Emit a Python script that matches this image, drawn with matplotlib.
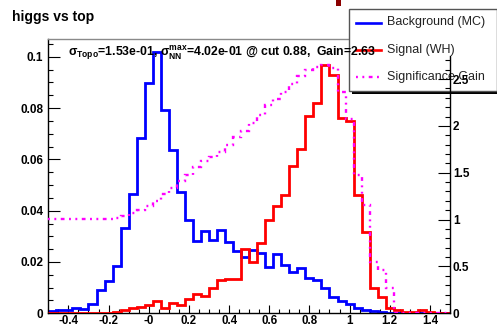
import numpy as np
import matplotlib
matplotlib.use('Agg')
import matplotlib.pyplot as plt
from matplotlib.ticker import FixedLocator, MultipleLocator
from matplotlib.patches import Rectangle
from matplotlib.lines import Line2D

plt.rcParams['font.family'] = ['Liberation Sans', 'DejaVu Sans']
plt.rcParams['mathtext.fontset'] = 'custom'
plt.rcParams['mathtext.rm'] = 'Liberation Sans:bold'
plt.rcParams['mathtext.it'] = 'Liberation Sans:italic:bold'
plt.rcParams['mathtext.bf'] = 'Liberation Sans:bold'

# ---------------- data ----------------
bin_lo, bin_hi, n_bins = -0.5, 1.5, 50

background = [0.0009, 0.0013, 0.0013, 0.0022, 0.0017, 0.0036, 0.0091, 0.0125, 0.0184, 0.0331,
              0.0465, 0.0682, 0.0896, 0.1018, 0.0793, 0.0635, 0.0474, 0.0365, 0.0280, 0.0322,
              0.0284, 0.0325, 0.0278, 0.0243, 0.0221, 0.0246, 0.0234, 0.0179, 0.0231, 0.0188,
              0.0162, 0.0175, 0.0136, 0.0130, 0.0100, 0.0065, 0.0049, 0.0035, 0.0022, 0.0013,
              0.0009, 0.0006, 0.0003, 0.0001, 0.0001, 0.0001, 0.0001, 0.0001, 0.0001, 0.0001]

signal = [0.0003, 0.0003, 0.0003, 0.0003, 0.0003, 0.0003, 0.0003, 0.0003, 0.0006, 0.0013,
          0.0019, 0.0023, 0.0032, 0.0049, 0.0019, 0.0041, 0.0032, 0.0056, 0.0074, 0.0069,
          0.0097, 0.0130, 0.0132, 0.0133, 0.0250, 0.0201, 0.0273, 0.0364, 0.0418, 0.0461,
          0.0574, 0.0641, 0.0769, 0.0821, 0.0966, 0.0927, 0.0760, 0.0748, 0.0460, 0.0318,
          0.0097, 0.0064, 0.0019, 0.0013, 0.0005, 0.0004, 0.0012, 0.0004, 0.0002, 0.0002]

gain = [1.01, 1.01, 1.01, 1.01, 1.01, 1.01, 1.01, 1.01, 1.02, 1.04,
        1.07, 1.10, 1.15, 1.20, 1.27, 1.34, 1.41, 1.48, 1.56, 1.62,
        1.67, 1.72, 1.80, 1.88, 1.95, 2.03, 2.12, 2.22, 2.29, 2.36,
        2.45, 2.53, 2.60, 2.63, 2.65, 2.62, 2.36, 2.07, 1.48, 1.16,
        0.55, 0.46, 0.27, 0.0, 0.0, 0.0, 0.0, 0.0, 0.0, 0.0]

xtick_vals = [-0.4, -0.2, 0.0, 0.2, 0.4, 0.6, 0.8, 1.0, 1.2, 1.4]
xtick_labels = ['-0.4', '-0.2', '-0', '0.2', '0.4', '0.6', '0.8', '1', '1.2', '1.4']
ytick_vals = [0, 0.02, 0.04, 0.06, 0.08, 0.1]
ytick_labels = ['0', '0.02', '0.04', '0.06', '0.08', '0.1']
y2tick_vals = [0, 0.5, 1, 1.5, 2, 2.5]
y2tick_labels = ['0', '0.5', '1', '1.5', '2', '2.5']

title = 'higgs vs top'
legend_labels = ['Background (MC)', 'Signal (WH)', 'Significance Gain']
stats_text = (r'$\mathrm{\sigma}_{\mathrm{Topo}}$=1.53e-01, '
              r'$\mathrm{\sigma}_{\mathrm{NN}}^{\mathrm{max}}$=4.02e-01 @ cut 0.88,  Gain=2.63')

C_BKG, C_SIG, C_GAIN = '#0000ff', '#ff0000', '#ff00ff'
GAIN_STYLE = (0, (0.8, 1.9, 0.8, 1.9, 1.6, 1.9))

# ---------------- figure ----------------
W, H = 497, 326
fig = plt.figure(figsize=(W / 100, H / 100), dpi=100)
fig.patch.set_facecolor('white')

def fx(px):
    return px / W

def fy(py):
    return 1 - py / H

L, R, T, B = 48.3, 450.0, 39.3, 313.3
ax = fig.add_axes([fx(L), fy(B), (R - L) / W, (B - T) / H])
ax.set_zorder(0)

edges = np.linspace(bin_lo, bin_hi, n_bins + 1)
ax.stairs(background, edges, color=C_BKG, lw=2.0, zorder=2)
ax.stairs(signal, edges, color=C_SIG, lw=2.0, zorder=3)
ax.set_xlim(bin_lo, bin_hi)
ax.set_ylim(0, 0.1068)

ax.spines['top'].set_color('#8a8a8a')
ax.spines['top'].set_linewidth(1.0)
ax.spines['right'].set_visible(False)
ax.spines['left'].set_linewidth(1.0)
ax.spines['bottom'].set_linewidth(1.0)

ax.set_xticks(xtick_vals, xtick_labels, fontsize=8.3, fontweight='bold')
ax.set_yticks(ytick_vals, ytick_labels, fontsize=8.5, fontweight='bold')
ax.xaxis.set_minor_locator(MultipleLocator(0.05))
ax.yaxis.set_minor_locator(MultipleLocator(0.005))
ax.tick_params(axis='x', which='major', direction='in', length=5.8, width=0.8, pad=1.2)
ax.tick_params(axis='x', which='minor', direction='in', length=2.9, width=0.8)
ax.tick_params(axis='y', which='major', direction='in', length=8.6, width=0.8, pad=3.6)
ax.tick_params(axis='y', which='minor', direction='in', length=3.6, width=0.8)

# right axis for the gain
ax2 = ax.twinx()
ax2.set_zorder(4)
ax2.patch.set_visible(False)
ax2.set_ylim(0, 2.924)
ax2.stairs(gain, edges, color=C_GAIN, lw=1.7, linestyle=GAIN_STYLE, baseline=None, zorder=4)
for s in ['top', 'left', 'bottom']:
    ax2.spines[s].set_visible(False)
ax2.spines['right'].set_bounds(0, 2.75)
ax2.spines['right'].set_linewidth(1.0)
ax2.set_yticks(y2tick_vals, y2tick_labels, fontsize=8.5, fontweight='bold')
ax2.yaxis.set_minor_locator(FixedLocator([k / 10 for k in range(28) if k % 5]))
ax2.tick_params(axis='y', which='major', direction='in', length=8.6, width=0.8, pad=2.0)
ax2.tick_params(axis='y', which='minor', direction='in', length=3.6, width=0.8)

# title
fig.text(fx(12.5), fy(21), title, fontsize=10, fontweight='bold', va='baseline', ha='left')

# legend box (figure-level, drawn under the stats text and right axis)
LL, LT, LR, LB = 349.3, 9.3, 496.5, 90.7
shadow = Rectangle((fx(LL + 3), fy(LB + 3)), (LR - LL) / W, (LB - LT) / H,
                   transform=fig.transFigure, facecolor='black', edgecolor='none', zorder=1.5)
box = Rectangle((fx(LL), fy(LB)), (LR - LL) / W, (LB - LT) / H,
                transform=fig.transFigure, facecolor='white', edgecolor='#555555', lw=1.0, zorder=2)
fig.add_artist(shadow)
fig.add_artist(box)
entry_y = [22.5, 50.0, 77.0]
entry_col = [C_BKG, C_SIG, C_GAIN]
entry_ls = ['-', '-', GAIN_STYLE]
for lab, yy, col, ls in zip(legend_labels, entry_y, entry_col, entry_ls):
    fig.add_artist(Line2D([fx(356), fx(381)], [fy(yy), fy(yy)], transform=fig.transFigure,
                          color=col, lw=1.7 if ls != '-' else 1.9, linestyle=ls, zorder=2.5))
    fig.text(fx(386.7), fy(yy), lab, fontsize=9, va='center', ha='left', color='#222222', zorder=2.6)

# stats text
fig.text(fx(68), fy(56), stats_text, fontsize=8.8, fontweight='bold', va='baseline', ha='left', zorder=3)

# small dark-red mark at the top
fig.add_artist(Rectangle((fx(336), fy(6)), 4.7 / W, 6 / H, transform=fig.transFigure,
                         facecolor='#8b0000', edgecolor='none', zorder=2))

fig.savefig('out.png', dpi=100, facecolor='white')
